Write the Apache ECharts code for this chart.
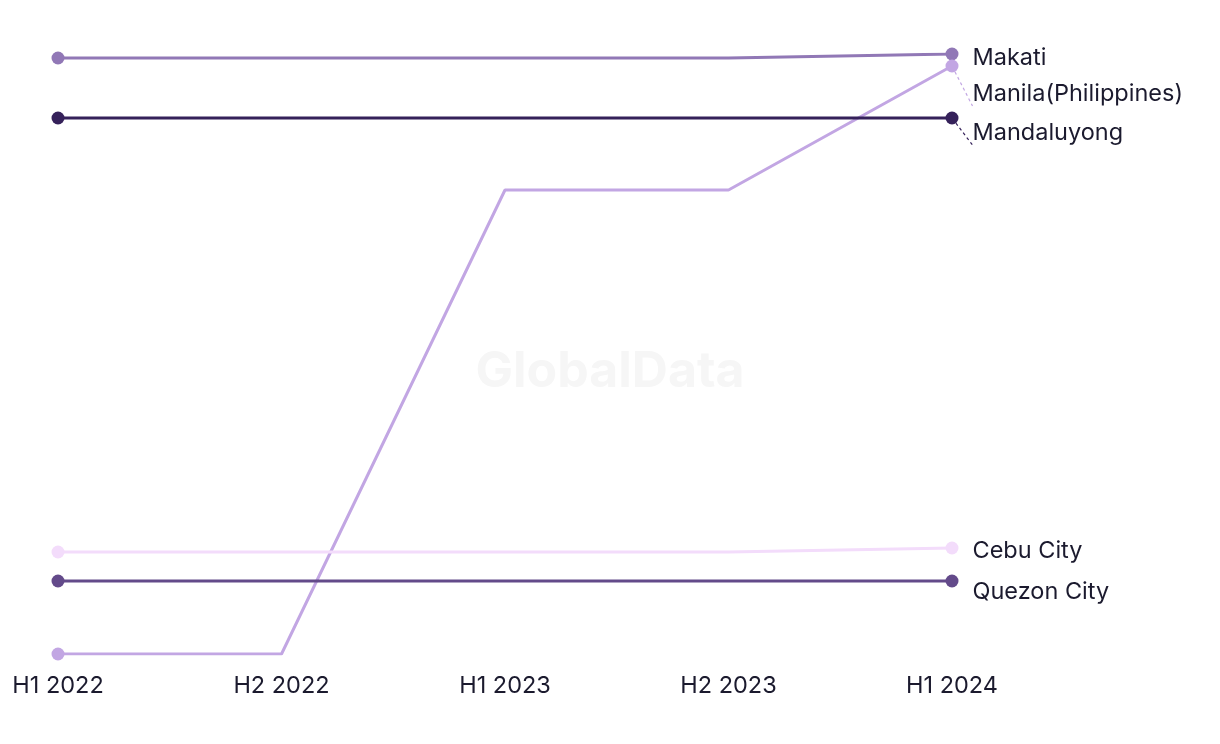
<!DOCTYPE html>
<html>
<head>
<meta charset="utf-8">
<script src="https://cdn.jsdelivr.net/npm/echarts@6/dist/echarts.min.js"></script>
<style>html,body{margin:0;padding:0;background:#fff}#c{width:1220px;height:744px}</style>
</head>
<body>
<div id="c"></div>
<script>
const categories = ['H1 2022', 'H2 2022', 'H1 2023', 'H2 2023', 'H1 2024'];
const seriesNames = ['Makati', 'Manila(Philippines)', 'Mandaluyong', 'Cebu City', 'Quezon City'];
const makati = [149, 149, 149, 149, 150];
const manila = [0, 0, 116, 116, 147];
const mandaluyong = [134, 134, 134, 134, 134];
const cebuCity = [25.5, 25.5, 25.5, 25.5, 26.5];
const quezonCity = [18.25, 18.25, 18.25, 18.25, 18.25];
const colors = ['#9178b6', '#c2a6e3', '#35215a', '#f3dcfb', '#634a8a'];

const allValues = [makati, manila, mandaluyong, cebuCity, quezonCity];
const labelShift = [4, 28, 15, 3, 11];
const showGuide = [false, true, true, false, false];
const last = categories.length - 1;
const chart = echarts.init(document.getElementById('c'));
const series = allValues.map((vals, k) => ({
  name: seriesNames[k],
  type: 'line',
  data: vals.map((v, i) => i === last ? { value: v, label: { show: true } } : v),
  color: colors[k],
  lineStyle: { width: 3, color: colors[k] },
  itemStyle: { color: colors[k] },
  symbol: 'circle',
  showSymbol: true,
  symbolSize: (v, p) => (p.dataIndex === 0 || p.dataIndex === last) ? 13 : 0,
  label: {
    show: false,
    position: 'right',
    distance: 14,
    offset: [0, labelShift[k]],
    formatter: seriesNames[k],
    fontFamily: 'Inter, Roboto, sans-serif',
    fontSize: 23.5,
    color: '#1b1a2e'
  },
  labelLine: { show: showGuide[k], lineStyle: { type: [3, 3], width: 1.2, color: colors[k] } },
  emphasis: { disabled: true },
  z: 2 + k
}));

chart.setOption({
  animation: false,
  grid: { left: 58, right: 268, top: 54, bottom: 90 },
  graphic: [{
    type: 'text', left: 'center', top: 'middle', z: 0,
    style: { text: 'GlobalData', fontSize: 50, fontWeight: 'bold', fontFamily: 'Inter, Roboto, sans-serif', fill: '#f6f6f6' }
  }],
  xAxis: {
    type: 'category',
    data: categories,
    boundaryGap: false,
    axisLine: { show: false },
    axisTick: { show: false },
    splitLine: { show: false },
    axisLabel: { margin: 20, fontSize: 23.5, color: '#1b1a2e', fontFamily: 'Inter, Roboto, sans-serif' }
  },
  yAxis: { type: 'value', min: 0, max: 150, show: false, splitLine: { show: false } },
  series: series
});
</script>
</body>
</html>
